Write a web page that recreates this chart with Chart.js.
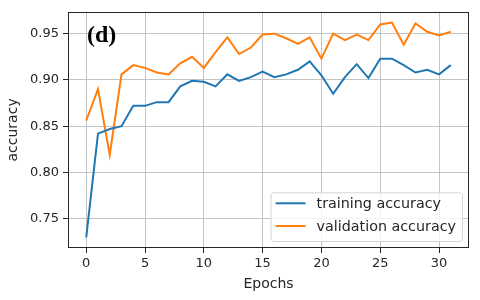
<!DOCTYPE html>
<html><head><meta charset="utf-8">
<script src="https://cdn.jsdelivr.net/npm/chart.js@4.4.0/dist/chart.umd.min.js"></script>
<style>html,body{margin:0;padding:0;background:#fff;}#wrap{width:480px;height:300px;}</style>
</head><body><div id="wrap"><canvas id="c" width="480" height="300"></canvas></div>
<script>
const epochs = [0,1,2,3,4,5,6,7,8,9,10,11,12,13,14,15,16,17,18,19,20,21,22,23,24,25,26,27,28,29,30,31];
const trainingAccuracy = [0.730,0.842,0.847,0.850,0.872,0.872,0.876,0.876,0.893,0.899,0.898,0.893,0.906,0.899,0.903,0.909,0.903,0.906,0.911,0.920,0.905,0.885,0.903,0.917,0.902,0.923,0.923,0.916,0.908,0.911,0.906,0.916];
const validationAccuracy = [0.856,0.890,0.819,0.906,0.916,0.913,0.908,0.906,0.918,0.925,0.913,0.930,0.946,0.928,0.935,0.949,0.950,0.945,0.939,0.946,0.923,0.950,0.943,0.949,0.943,0.960,0.962,0.938,0.961,0.952,0.948,0.952];
const xTicks = [0,5,10,15,20,25,30];
const yTicks = [0.75,0.80,0.85,0.90,0.95];
const seriesLabels = ['training accuracy','validation accuracy'];
const seriesColors = ['#1f77b4','#ff7f0e'];
const panelLabel = '(d)';
const xTitle = 'Epochs';
const yTitle = 'accuracy';

const FONT = 'DejaVu Sans';
const TXT = '#262626';

const framePlugin = {
  id: 'frame',
  afterDatasetsDraw(chart) {
    const {ctx, chartArea: a} = chart;
    ctx.save();
    ctx.strokeStyle = TXT; ctx.lineWidth = 1;
    ctx.strokeRect(Math.round(a.left)+0.5, Math.round(a.top)+0.5, Math.round(a.right-a.left)-1, Math.round(a.bottom-a.top)-1);
    // panel label
    ctx.fillStyle = '#000';
    ctx.font = 'bold 24px "Liberation Serif"';
    ctx.textBaseline = 'alphabetic';
    ctx.textAlign = 'left';
    ctx.fillText(panelLabel, a.left + 19, a.top + 30);
    ctx.restore();
  }
};

const legendPlugin = {
  id: 'innerLegend',
  afterDraw(chart) {
    const {ctx, chartArea: a} = chart;
    ctx.save();
    ctx.font = '14.3px "' + FONT + '"';
    const tw = Math.max(...chart.data.datasets.map(d => ctx.measureText(d.label).width));
    const lineLen = 30, gap = 11, padL = 5, padR = 6, rowH = 22.7, padTB = 11;
    const n = chart.data.datasets.length;
    const w = padL + lineLen + gap + tw + padR;
    const h = padTB*2 + rowH*(n-1) + 4;
    const right = a.right - 7, bottom = a.bottom - 7;
    const left = right - w, top = bottom - h;
    ctx.beginPath();
    if (ctx.roundRect) ctx.roundRect(left+0.5, top+0.5, w, h, 3); else ctx.rect(left+0.5, top+0.5, w, h);
    ctx.fillStyle = 'rgba(255,255,255,0.8)';
    ctx.fill();
    ctx.strokeStyle = '#d4d4d4'; ctx.lineWidth = 1;
    ctx.stroke();
    chart.data.datasets.forEach((d, i) => {
      const y = top + padTB + rowH*i;
      ctx.strokeStyle = d.borderColor; ctx.lineWidth = 2;
      ctx.beginPath(); ctx.moveTo(left+padL, y); ctx.lineTo(left+padL+lineLen, y); ctx.stroke();
      ctx.fillStyle = TXT; ctx.textBaseline = 'middle'; ctx.textAlign = 'left';
      ctx.fillText(d.label, left+padL+lineLen+gap, y+1);
    });
    ctx.restore();
  }
};

const mk = (ys) => epochs.map((e, i) => ({x: e, y: ys[i]}));

new Chart(document.getElementById('c'), {
  type: 'line',
  data: {
    datasets: [
      {label: seriesLabels[0], data: mk(trainingAccuracy), borderColor: seriesColors[0], backgroundColor: seriesColors[0], borderWidth: 2, pointRadius: 0, tension: 0, fill: false},
      {label: seriesLabels[1], data: mk(validationAccuracy), borderColor: seriesColors[1], backgroundColor: seriesColors[1], borderWidth: 2, pointRadius: 0, tension: 0, fill: false}
    ]
  },
  options: {
    responsive: false,
    animation: false,
    layout: {padding: {left: 0, right: 11, top: 10, bottom: 0}},
    plugins: {legend: {display: false}, tooltip: {enabled: false}},
    scales: {
      x: {
        type: 'linear', min: -1.55, max: 32.55,
        afterBuildTicks: s => { s.ticks = xTicks.map(v => ({value: v})); },
        afterFit: s => { s.height = 52; },
        ticks: {font: {family: FONT, size: 13}, color: TXT, padding: 3, maxRotation: 0, autoSkip: false, callback: v => String(v)},
        grid: {color: '#c4c4c4', lineWidth: 1, tickColor: TXT, tickLength: 5},
        border: {display: false},
        title: {display: true, text: xTitle, font: {family: FONT, size: 14}, color: TXT, padding: {top: 0, bottom: 7}}
      },
      y: {
        type: 'linear', min: 0.7184, max: 0.9736,
        afterBuildTicks: s => { s.ticks = yTicks.map(v => ({value: v})); },
        afterFit: s => { s.width = 68; },
        ticks: {font: {family: FONT, size: 13}, color: TXT, padding: 4, callback: v => v.toFixed(2)},
        grid: {color: '#c4c4c4', lineWidth: 1, tickColor: TXT, tickLength: 5},
        border: {display: false},
        title: {display: true, text: yTitle, font: {family: FONT, size: 14}, color: TXT, padding: {top: 5, bottom: 0}}
      }
    }
  },
  plugins: [framePlugin, legendPlugin]
});
</script>
</body></html>
